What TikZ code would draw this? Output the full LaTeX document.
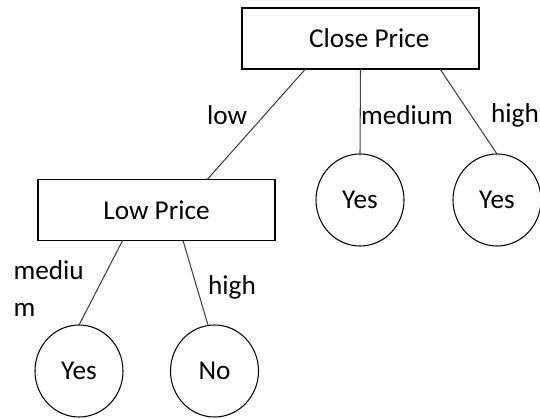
\documentclass[tikz,border=0pt]{standalone}
\usepackage{fontspec}
\setmainfont{Carlito}
\usetikzlibrary{shapes.geometric}
\begin{document}
\begin{tikzpicture}
    \tikzstyle{box} = [draw, rectangle, minimum width=4.74cm, minimum height=1.22cm, inner sep=0pt, outer sep=0pt, text centered]
    \tikzstyle{leaf} = [draw, ellipse, minimum width=1.76cm, minimum height=1.84cm, inner sep=0pt, outer sep=0pt, text centered]
    \tikzstyle{edge} = [line width=0.6pt, draw=black!75]
    \tikzstyle{branch} = [inner sep=0pt]
    \useasboundingbox (0,0) rectangle (10.8,8.38);
    \begin{scope}[every node/.append style={font=\fontsize{15.5}{21}\selectfont}, every path/.append style={line width=0.6pt}]
    % Root box
    \node [box] (ClosePrice) at (7.21,7.61) {\hspace{0.35cm}Close Price};

    % Middle leaf
    \node [leaf] (YesMid) at (7.20,4.38) {Yes};
    \draw [edge] (ClosePrice.south) -- (YesMid.north);
    \node [branch] (MediumLbl) at (8.14,6.08) {medium};

    % Right leaf
    \node [leaf] (YesRight) at (9.94,4.38) {Yes};
    \draw [edge] (ClosePrice.-21) -- (YesRight.north);
    \node [branch] (HighLbl) at (10.30,6.08) {high};

    % Second box
    \node [box] (LowPrice) at (3.13,4.18) {Low Price};
    \draw [edge] (ClosePrice.-151) -- (LowPrice.31);
    \node [branch] (LowLbl) at (4.54,6.08) {low};

    % Bottom left leaf
    \node [leaf] (YesLow) at (1.58,0.96) {Yes};
    \draw [edge] (LowPrice.-138) -- (YesLow.north);
    \node [branch, align=left, anchor=west] (MediuLbl) at (0.26,2.61) {mediu\\m};

    % Bottom right leaf
    \node [leaf] (NoLow) at (4.29,0.96) {No};
    \draw [edge] (LowPrice.-49) -- (NoLow.98);
    \node [branch] (HighLowLbl) at (4.64,2.64) {high};
    \end{scope}
\end{tikzpicture}
\end{document}
